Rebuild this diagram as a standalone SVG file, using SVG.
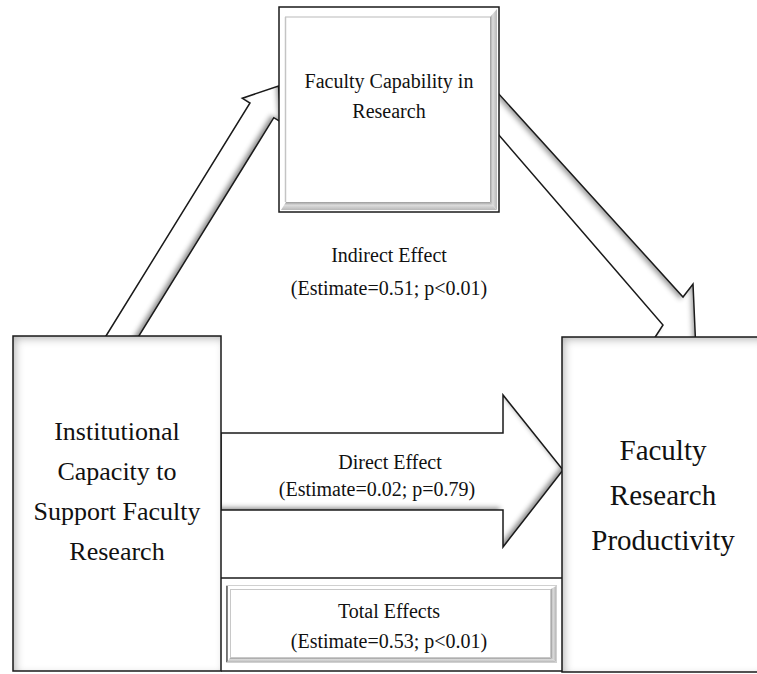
<svg xmlns="http://www.w3.org/2000/svg" width="757" height="674" viewBox="0 0 757 674">
<style>
text{font-family:"Liberation Serif","Times New Roman",serif;fill:#111;text-anchor:middle}
.t20{font-size:20px}
.t26{font-size:26px}
.t29{font-size:29px}
.edge{fill:none;stroke:#1a1a1a;stroke-width:1.5;stroke-linejoin:miter}
.fillw{fill:#fff;stroke:none}
</style>
<defs>
<filter id="shRB" x="-10%" y="-10%" width="120%" height="120%">
<feComponentTransfer in="SourceAlpha" result="inv"><feFuncA type="table" tableValues="1 0"/></feComponentTransfer>
<feGaussianBlur in="inv" stdDeviation="2.5" result="b"/>
<feOffset in="b" dx="-3.5" dy="-3.5" result="o"/>
<feFlood flood-color="#8c8c8c"/>
<feComposite in2="o" operator="in" result="c"/>
<feComposite in="c" in2="SourceAlpha" operator="in" result="s"/>
<feMerge><feMergeNode in="SourceGraphic"/><feMergeNode in="s"/></feMerge>
</filter>
<filter id="shUR" x="-10%" y="-10%" width="120%" height="120%">
<feComponentTransfer in="SourceAlpha" result="inv"><feFuncA type="table" tableValues="1 0"/></feComponentTransfer>
<feGaussianBlur in="inv" stdDeviation="2.5" result="b"/>
<feOffset in="b" dx="-3" dy="2.5" result="o"/>
<feFlood flood-color="#a0a0a0"/>
<feComposite in2="o" operator="in" result="c"/>
<feComposite in="c" in2="SourceAlpha" operator="in" result="s"/>
<feMerge><feMergeNode in="SourceGraphic"/><feMergeNode in="s"/></feMerge>
</filter>
<filter id="shTL" x="-10%" y="-10%" width="120%" height="120%">
<feComponentTransfer in="SourceAlpha" result="inv"><feFuncA type="table" tableValues="1 0"/></feComponentTransfer>
<feGaussianBlur in="inv" stdDeviation="4" result="b"/>
<feOffset in="b" dx="3" dy="3" result="o"/>
<feFlood flood-color="#b4b4b4"/>
<feComposite in2="o" operator="in" result="c"/>
<feComposite in="c" in2="SourceAlpha" operator="in" result="s"/>
<feMerge><feMergeNode in="SourceGraphic"/><feMergeNode in="s"/></feMerge>
</filter>
<linearGradient id="bevR" x1="0" y1="0" x2="1" y2="0"><stop offset="0" stop-color="#9a9a9a"/><stop offset="0.4" stop-color="#dcdcdc"/><stop offset="1" stop-color="#b8b8b8"/></linearGradient>
<linearGradient id="bevB" x1="0" y1="0" x2="0" y2="1"><stop offset="0" stop-color="#9a9a9a"/><stop offset="0.4" stop-color="#dcdcdc"/><stop offset="1" stop-color="#b8b8b8"/></linearGradient>
</defs>

<g id="connectors">
  <g id="arrow-indirect-a">
    <polygon class="fillw" filter="url(#shRB)" points="100.4,345 250,103 242.3,98.3 278.5,86 281.5,122.4 273.8,117.7 124.2,359.7"/>
    <polygon class="edge" points="100.4,345 250,103 242.3,98.3 278.5,86 281.5,122.4 273.8,117.7 124.2,359.7"/>
  </g>
  <g id="arrow-indirect-b">
    <polygon class="fillw" filter="url(#shUR)" points="488,82 683,297 693,284 696,352 650,345 663,325 479,112"/>
    <polygon class="edge" points="488,82 683,297 693,284 696,352 650,345 663,325 479,112"/>
  </g>
  <g id="arrow-direct">
    <polygon class="fillw" filter="url(#shRB)" points="221,433 503,433 503,395 563,470 503,547 503,510 221,510"/>
    <polygon class="edge" points="221,433 503,433 503,395 563,470 503,547 503,510 221,510"/>
  </g>
</g>

<g id="node-faculty-capability">
  <rect x="279" y="7" width="220" height="205" fill="#fff" stroke="#1a1a1a" stroke-width="1.5"/>
  <polygon points="490,17 497,9 497,210 490,202" fill="url(#bevR)"/>
  <polygon points="286,202 490,202 497,210 281,210" fill="url(#bevB)"/>
  <line x1="285" y1="17" x2="490" y2="17" stroke="#d0d0d0" stroke-width="1.5"/>
  <line x1="285.5" y1="17" x2="285.5" y2="202" stroke="#c4c4c4" stroke-width="1.5"/>
  <text class="t20" x="389" y="88">Faculty Capability in</text>
  <text class="t20" x="389" y="118">Research</text>
</g>

<g id="label-indirect">
  <text class="t20" x="389" y="262">Indirect Effect</text>
  <text class="t20" x="389" y="295">(Estimate=0.51; p&lt;0.01)</text>
</g>

<g id="label-direct">
  <text class="t20" x="390" y="469">Direct Effect</text>
  <text class="t20" x="377" y="496">(Estimate=0.02; p=0.79)</text>
</g>

<g id="node-total">
  <line x1="221" y1="578" x2="562" y2="578" stroke="#1a1a1a" stroke-width="1.5"/>
  <line x1="221" y1="671" x2="562" y2="671" stroke="#1a1a1a" stroke-width="1.5"/>
  <rect x="226.5" y="585.5" width="330" height="77" fill="#fff" stroke="#d0d0d0" stroke-width="1"/>
  <line x1="227" y1="586" x2="227" y2="662" stroke="#333" stroke-width="1.2"/>
  <polygon points="551,589 556,586 556,662 551,658" fill="url(#bevR)"/>
  <polygon points="230,658 551,658 556,662 227,662" fill="url(#bevB)"/>
  <rect x="230.5" y="589.5" width="320" height="68" fill="#fff" stroke="#c8c8c8" stroke-width="1"/>
  <text class="t20" x="389" y="618">Total Effects</text>
  <text class="t20" x="389" y="648">(Estimate=0.53; p&lt;0.01)</text>
</g>

<g id="node-institutional">
  <rect x="13" y="336" width="208" height="335" fill="#fff" filter="url(#shTL)"/>
  <rect x="13" y="336" width="208" height="335" class="edge"/>
  <text class="t26" x="117" y="440">Institutional</text>
  <text class="t26" x="117" y="480">Capacity to</text>
  <text class="t26" x="117" y="520">Support Faculty</text>
  <text class="t26" x="117" y="560">Research</text>
</g>

<g id="node-productivity">
  <rect x="562" y="337" width="200" height="335" fill="#fff" filter="url(#shTL)"/>
  <rect x="562" y="337" width="200" height="335" class="edge"/>
  <text class="t29" x="663" y="460">Faculty</text>
  <text class="t29" x="663" y="505">Research</text>
  <text class="t29" x="663" y="550">Productivity</text>
</g>
</svg>
